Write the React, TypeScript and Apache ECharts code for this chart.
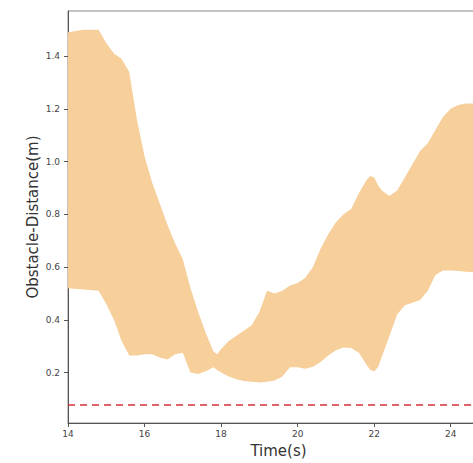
import React, { useEffect, useRef } from "react";
import * as echarts from "echarts";

const times = [14.0, 14.4, 14.8, 15.0, 15.2, 15.4, 15.6, 15.8, 16.0, 16.2, 16.4, 16.6, 16.8, 17.0, 17.2, 17.4, 17.6, 17.8, 17.9, 18.0, 18.2, 18.4, 18.6, 18.8, 19.0, 19.2, 19.4, 19.6, 19.8, 20.0, 20.2, 20.4, 20.6, 20.8, 21.0, 21.2, 21.4, 21.6, 21.8, 21.9, 22.0, 22.1, 22.2, 22.4, 22.6, 22.8, 23.0, 23.2, 23.4, 23.6, 23.8, 24.0, 24.2, 24.4, 24.6, 25.0];

const upperBound = [1.49, 1.5, 1.5, 1.45, 1.41, 1.39, 1.34, 1.16, 1.02, 0.92, 0.84, 0.76, 0.69, 0.63, 0.52, 0.43, 0.35, 0.28, 0.27, 0.29, 0.32, 0.34, 0.36, 0.38, 0.43, 0.51, 0.5, 0.51, 0.53, 0.54, 0.56, 0.6, 0.67, 0.725, 0.77, 0.8, 0.82, 0.88, 0.93, 0.945, 0.94, 0.91, 0.89, 0.87, 0.89, 0.94, 0.99, 1.04, 1.07, 1.12, 1.17, 1.2, 1.215, 1.22, 1.22, 1.22];

const lowerBound = [0.52, 0.515, 0.51, 0.46, 0.4, 0.32, 0.265, 0.265, 0.27, 0.27, 0.257, 0.25, 0.27, 0.275, 0.2, 0.195, 0.205, 0.22, 0.21, 0.2, 0.185, 0.175, 0.168, 0.165, 0.163, 0.165, 0.17, 0.185, 0.22, 0.22, 0.215, 0.222, 0.24, 0.265, 0.285, 0.295, 0.293, 0.275, 0.23, 0.21, 0.205, 0.22, 0.26, 0.34, 0.42, 0.455, 0.465, 0.475, 0.51, 0.57, 0.587, 0.587, 0.585, 0.582, 0.58, 0.58];

const safetyThreshold = 0.08;

const xTicks = [14, 16, 18, 20, 22, 24];
const yTicks = [0.2, 0.4, 0.6, 0.8, 1.0, 1.2, 1.4];

const X_MIN = 14;
const X_MAX = 25;
const Y_MIN = 0.009;
const Y_MAX = 1.571;

export default function App() {
  const ref = useRef<HTMLDivElement>(null);

  useEffect(() => {
    if (!ref.current) return;
    const chart = echarts.init(ref.current, null, { renderer: "svg" });
    const font = "DejaVu Sans";
    const bandData = times.map((t, i) => [t, lowerBound[i], upperBound[i]]);

    chart.setOption({
      animation: false,
      backgroundColor: "#ffffff",
      grid: {
        left: 68,
        top: 11,
        right: 11,
        bottom: 36,
        show: true,
        borderColor: "#8a8a8a",
        borderWidth: 1,
        backgroundColor: "transparent",
      },
      xAxis: {
        type: "value",
        min: X_MIN,
        max: X_MAX,
        splitLine: { show: false },
        axisLine: { show: true, onZero: false, lineStyle: { color: "#555", width: 1 } },
        axisTick: { show: true, customValues: xTicks, length: 4, lineStyle: { color: "#555" } },
        axisLabel: {
          customValues: xTicks,
          formatter: (v: number) => String(v),
          fontFamily: font,
          fontSize: 9,
          color: "#444",
          margin: 6,
        },
        name: "Time(s)",
        nameLocation: "middle",
        nameGap: 20,
        nameMoveOverlap: false,
        nameTextStyle: { fontFamily: font, fontSize: 15, color: "#333" },
      },
      yAxis: {
        type: "value",
        min: Y_MIN,
        max: Y_MAX,
        splitLine: { show: false },
        axisLine: { show: true, onZero: false, lineStyle: { color: "#555", width: 1 } },
        axisTick: { show: true, customValues: yTicks, length: 4, lineStyle: { color: "#555" } },
        axisLabel: {
          customValues: yTicks,
          formatter: (v: number) => v.toFixed(1),
          fontFamily: font,
          fontSize: 9,
          color: "#444",
          margin: 8,
        },
        name: "Obstacle-Distance(m)",
        nameLocation: "middle",
        nameGap: 28,
        nameMoveOverlap: false,
        nameRotate: 90,
        nameTextStyle: { fontFamily: font, fontSize: 15, color: "#333" },
      },
      series: [
        {
          type: "custom",
          data: bandData,
          silent: true,
          clip: true,
          encode: { x: 0, y: [1, 2] },
          renderItem: (params: any, api: any) => {
            if (params.dataIndex !== 0) return null;
            const top = bandData.map((d) => api.coord([d[0], d[2]]));
            const bottom = bandData.map((d) => api.coord([d[0], d[1]])).reverse();
            const points = top.concat(bottom);
            return {
              type: "polygon",
              shape: { points },
              style: { fill: "#f6cf9b", stroke: "none" },
            };
          },
        },
        {
          type: "line",
          data: [],
          symbol: "none",
          markLine: {
            silent: true,
            symbol: "none",
            label: { show: false },
            lineStyle: { color: "#d9313a", type: [7, 5], width: 1.5 },
            data: [{ yAxis: safetyThreshold }],
          },
        },
      ],
    });
    return () => chart.dispose();
  }, []);

  return (
    <div style={{ position: "fixed", left: 0, top: 0, width: 473, height: 463, overflow: "hidden", background: "#fff" }}>
      <div ref={ref} style={{ width: 500, height: 463 }} />
    </div>
  );
}
